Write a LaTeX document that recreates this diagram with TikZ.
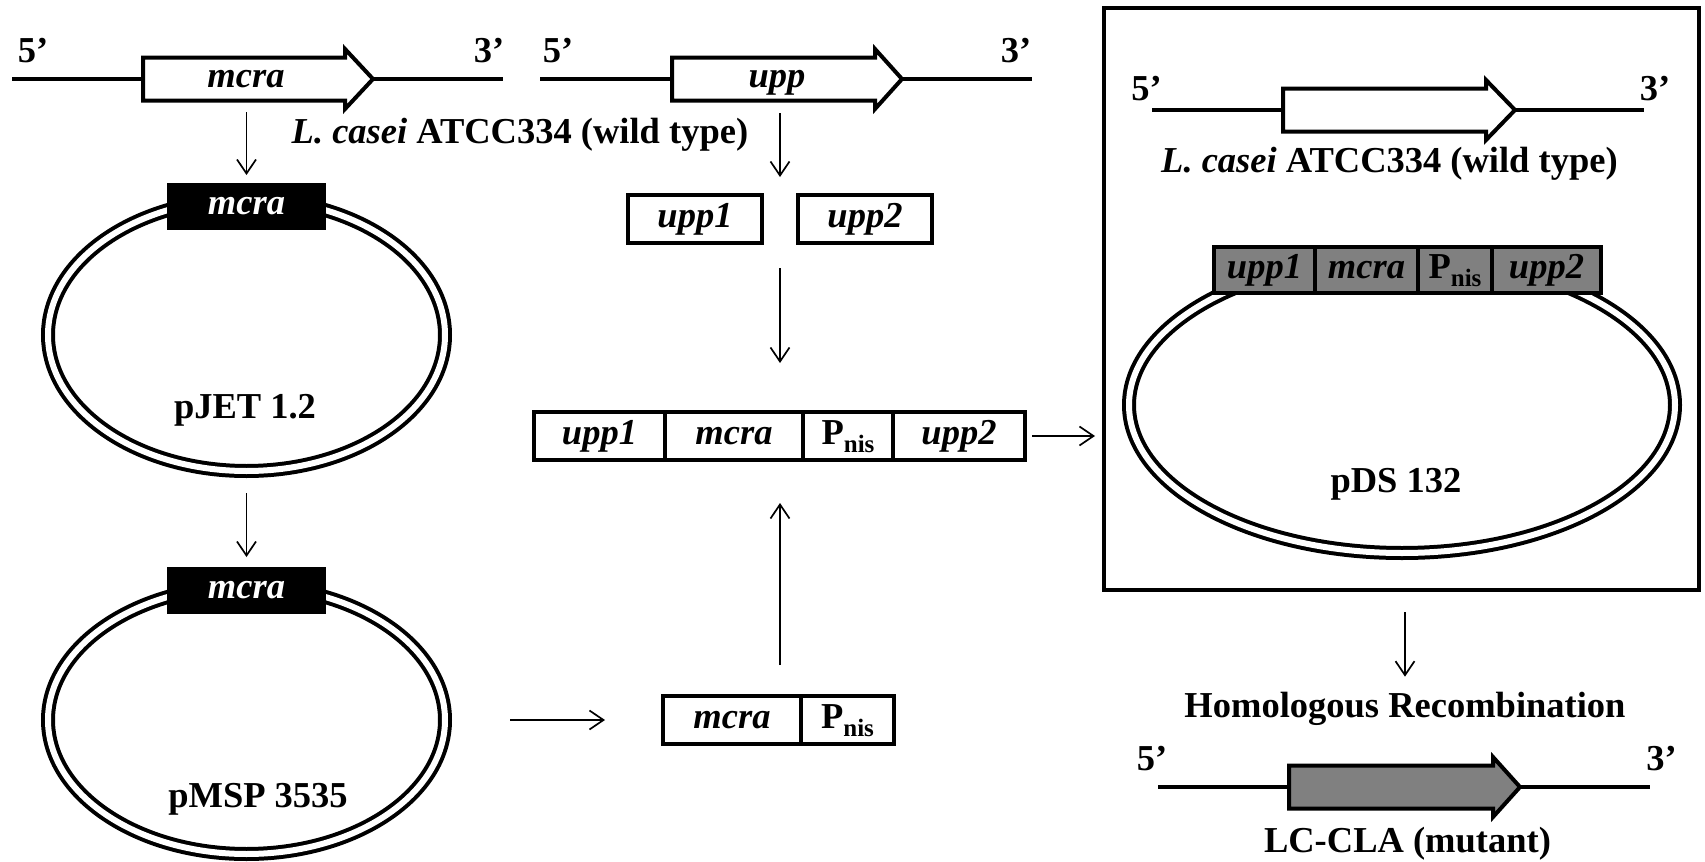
\documentclass[tikz,border=0pt]{standalone}
\usepackage{fontspec}
\setmainfont{Liberation Serif}
\usetikzlibrary{arrows.meta,shapes.geometric,calc}
\definecolor{genegray}{RGB}{128,128,128}
% promoter label with subscript
\newcommand{\Pnis}{P\raisebox{-4pt}{\fontsize{12.5}{12.5}\selectfont nis}}
% gene arrow outline: #1 start, #2 base of head, #3 tip, #4 axis, #5 fill
\newcommand{\genearrow}[5]{%
  \draw[genebody, fill=#5] (#1,#4-21.5) -- (#2,#4-21.5) -- (#2,#4-30) -- (#3,#4)
    -- (#2,#4+30) -- (#2,#4+21.5) -- (#1,#4+21.5) -- cycle;}
\begin{document}
\begin{tikzpicture}[x=0.5pt,y=-0.5pt,
  every node/.style={font=\bfseries\fontsize{18.25}{22}\selectfont, inner sep=0pt, outer sep=0pt},
  dna/.style={line width=2pt},
  genebody/.style={draw, line width=2pt, line join=miter},
  shaft/.style={minimum height=21.5pt, text height=12pt, text depth=3.6pt,
    font=\bfseries\itshape\fontsize{18.25}{22}\selectfont},
  cell/.style={draw, line width=2pt, minimum height=24pt, text height=12pt, text depth=3.6pt},
  gcell/.style={cell, fill=genegray, minimum height=23pt},
  it/.style={font=\bfseries\itshape\fontsize{18.25}{22}\selectfont},
  blackbox/.style={draw, fill=black, line width=2pt, text=white, minimum width=77.5pt,
    minimum height=21.5pt, text height=12pt, text depth=3.6pt,
    font=\bfseries\itshape\fontsize{18.25}{22}\selectfont},
  ring/.style={ellipse, draw, line width=2pt, double=white, double distance=3pt},
  conn/.style={line width=0.85pt, -{Straight Barb[length=7pt,width=9.5pt]}},
  lbl/.style={anchor=base},
]
\useasboundingbox (0,0) rectangle (1705,862);

% ---------- left: mcra gene of the wild type ----------
\draw[dna] (12,79) -- (503,79);
\genearrow{143}{345}{373}{79}{white}
\node[shaft, minimum width=101pt] (geneA) at (246,79) {mcra};
\node[lbl] (a5) at (33,62) {5’};
\node[lbl] (a3) at (489,62) {3’};

% ---------- middle: upp gene of the wild type ----------
\draw[dna] (540,79) -- (1032,79);
\genearrow{672}{875}{902}{79}{white}
\node[shaft, minimum width=101.5pt] (geneB) at (777,79) {upp};
\node[lbl] (b5) at (558,62) {5’};
\node[lbl] (b3) at (1016,62) {3’};
\node[lbl] (wtA) at (520,143) {\textit{L. casei} ATCC334 (wild type)};

% ---------- pJET 1.2 ----------
\node[ring, minimum width=198.5pt, minimum height=136pt] (ringA) at (246.5,335) {};
\node[blackbox] (boxA) at (246.5,206.5) {mcra};
\node[lbl] (labA) at (245,418) {pJET 1.2};

% ---------- pMSP 3535 ----------
\node[ring, minimum width=198.5pt, minimum height=134pt] (ringB) at (246.5,720) {};
\node[blackbox] (boxB) at (246.5,590.5) {mcra};
\node[lbl] (labB) at (258,807) {pMSP 3535};

% ---------- homology arms ----------
\node[cell, it, minimum width=67pt] (upp1) at (695,219) {upp1};
\node[cell, it, minimum width=67pt] (upp2) at (865,219) {upp2};
\coordinate (gap) at ($(upp1.south)!0.5!(upp2.south)$);

% ---------- mcra + promoter ----------
\node[cell, it, minimum width=69pt] (s1) at (732,720) {mcra};
\node[cell, minimum width=46.5pt] (s2) at (847.5,720) {\Pnis};

% ---------- assembled cassette ----------
\node[cell, it, minimum width=65.5pt] (b1) at (599.5,436) {upp1};
\node[cell, it, minimum width=69pt] (b2) at (734,436) {mcra};
\node[cell, minimum width=45pt] (b3) at (848,436) {\Pnis};
\node[cell, it, minimum width=66pt] (b4) at (959,436) {upp2};

% ---------- right panel: pDS 132 ----------
\node[draw, line width=2.25pt, minimum width=297.5pt, minimum height=291pt] (frame) at (1401.5,299) {};
\draw[dna] (1152,110) -- (1644,110);
\genearrow{1283}{1486}{1515}{110}{white}
\node[shaft, minimum width=101.5pt] (geneC) at (1384.5,110) {};
\node[lbl] (c5) at (1146.5,100) {5’};
\node[lbl] (c3) at (1655,100) {3’};
\node[lbl] (wtC) at (1389.5,172) {\textit{L. casei} ATCC334 (wild type)};
\node[ring, minimum width=273pt, minimum height=148pt] (ringC) at (1402,405) {};
\node[gcell, it, minimum width=50.5pt] (g1) at (1264.5,270) {upp1};
\node[gcell, it, minimum width=51.5pt] (g2) at (1366.5,270) {mcra};
\node[gcell, minimum width=37pt] (g3) at (1455,270) {\Pnis};
\node[gcell, it, minimum width=54.5pt] (g4) at (1546.5,270) {upp2};
\node[lbl] (labC) at (1396,492) {pDS 132};

% ---------- recombinant ----------
\node[lbl] (hr) at (1405,717) {Homologous Recombination};
\draw[dna] (1158,787) -- (1650,787);
\genearrow{1289}{1493}{1520}{787}{genegray}
\node[shaft, minimum width=102pt] (geneD) at (1391,787) {};
\node[lbl] (d5) at (1152,770) {5’};
\node[lbl] (d3) at (1661.5,770) {3’};
\node[lbl] (mut) at (1407.5,852) {LC-CLA (mutant)};

% ---------- connectors ----------
\draw[conn, shorten <=5.75pt, shorten >=5pt] (geneA.south -| boxA.north) -- (boxA.north);
\draw[conn, shorten <=11pt, shorten >=6pt] (ringA.south) -- (boxB.north);
\draw[conn, shorten <=32.5pt, shorten >=29pt] (ringB.east) -- (s1.west);
\draw[conn, shorten <=6.25pt, shorten >=9pt] (geneB.south -| gap) -- (upp1.north -| gap);
\draw[conn, shorten <=12.5pt, shorten >=24.5pt] (gap) -- (b2.north -| gap);
\draw[conn, shorten <=15.5pt, shorten >=21.5pt] (s1.north -| gap) -- (b2.south -| gap);
\draw[conn, shorten <=3.5pt, shorten >=4.5pt] (b4.east) -- (b4.east -| frame.west);
\draw[conn, shorten <=11pt, shorten >=7.5pt] (frame.south -| hr.north) -- (hr.north);
\end{tikzpicture}
\end{document}
